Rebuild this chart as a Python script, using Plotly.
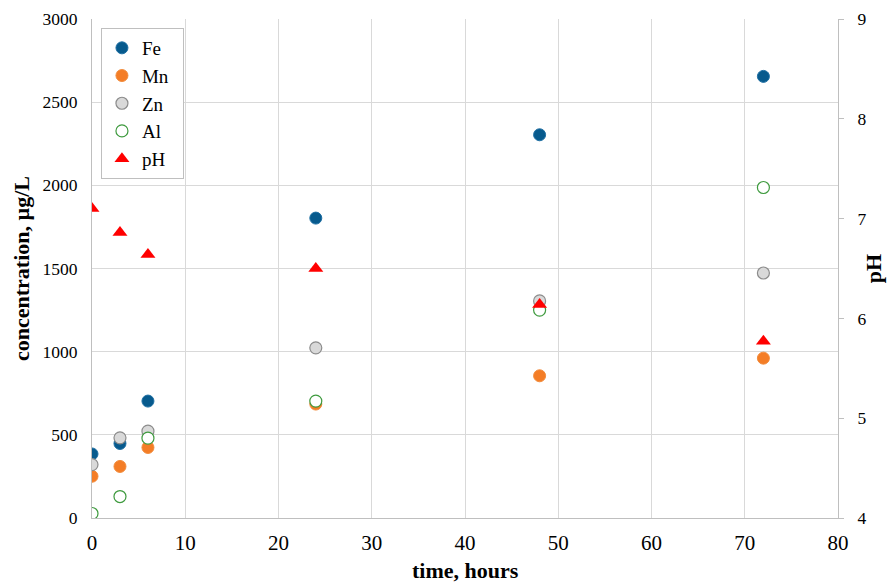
import plotly.graph_objects as go

time_h = [0, 3, 6, 24, 48, 72]
fe = [385, 448, 703, 1803, 2304, 2655]
mn = [251, 310, 424, 685, 855, 961]
zn = [321, 482, 522, 1023, 1305, 1473]
al = [27, 129, 480, 703, 1250, 1987]
ph = [7.1, 6.86, 6.64, 6.5, 6.14, 5.77]
series_names = ["Fe", "Mn", "Zn", "Al", "pH"]

FONT = "Liberation Serif"
PAD = "\u00a0\u00a0"
fig = go.Figure()
fig.add_trace(go.Scatter(x=time_h, y=fe, name=series_names[0] + PAD, mode="markers", legendgroup="a",
                         marker=dict(size=12, color="#075a8d", line=dict(color="#1e6fa3", width=1))))
fig.add_trace(go.Scatter(x=time_h, y=mn, name=series_names[1] + PAD, mode="markers", legendgroup="b",
                         marker=dict(size=12, color="#f47d26", line=dict(color="#f28c3c", width=1))))
fig.add_trace(go.Scatter(x=time_h, y=zn, name=series_names[2] + PAD, mode="markers", legendgroup="c",
                         marker=dict(size=12, color="#d9d9d9", line=dict(color="#8c8c8c", width=1.2))))
fig.add_trace(go.Scatter(x=time_h, y=al, name=series_names[3] + PAD, mode="markers", legendgroup="d",
                         marker=dict(size=12, color="white", line=dict(color="#3e9a3e", width=1.2))))
fig.add_trace(go.Scatter(x=time_h, y=ph, name=series_names[4] + PAD, mode="markers", yaxis="y2", legendgroup="e",
                         marker=dict(size=13, symbol="triangle-up", color="#ff0000", line=dict(width=0))))

axis_common = dict(showline=True, linecolor="#bfbfbf", linewidth=1, zeroline=False, automargin=False)
fig.update_layout(
    width=889, height=585,
    margin=dict(l=92, r=51, t=19, b=67),
    paper_bgcolor="white", plot_bgcolor="white",
    font=dict(family=FONT, size=17, color="black"),
    xaxis=dict(range=[0, 80], dtick=10, showgrid=True, gridcolor="#d9d9d9", ticks="",
               ticklabelstandoff=6, tickfont=dict(family=FONT, size=21, color="black"),
               **axis_common),
    yaxis=dict(range=[0, 3000], dtick=500, showgrid=True, gridcolor="#d9d9d9", ticks="",
               ticklabelstandoff=10, tickfont=dict(family=FONT, size=17.5, color="black"),
               title=dict(text="<b>concentration, µg/L</b>", font=dict(family=FONT, size=22), standoff=6),
               **axis_common),
    yaxis2=dict(range=[4, 9], dtick=1, overlaying="y", side="right", showgrid=False,
                ticks="outside", ticklen=5, tickcolor="#bfbfbf", ticklabelstandoff=10,
                tickfont=dict(family=FONT, size=17.5, color="black"),
                **axis_common),
    annotations=[
        dict(text="<b>pH</b>", xref="paper", yref="paper", x=1.048, y=0.5,
             xanchor="center", yanchor="middle", textangle=-90, showarrow=False,
             font=dict(family=FONT, size=22, color="black")),
        dict(text="<b>time, hours</b>", xref="paper", yref="paper", x=0.5, y=-0.106,
             xanchor="center", yanchor="middle", showarrow=False,
             font=dict(family=FONT, size=22, color="black")),
    ],
    legend=dict(x=0.012, y=0.982, xanchor="left", yanchor="top",
                bgcolor="white", bordercolor="#bfbfbf", borderwidth=1,
                font=dict(family=FONT, size=19), traceorder="grouped", tracegroupgap=0,
                itemwidth=30),
    showlegend=True,
)
fig.write_html("out.html", config={"displayModeBar": False},
               post_script="document.body.style.margin='0';document.body.style.overflow='hidden';")
